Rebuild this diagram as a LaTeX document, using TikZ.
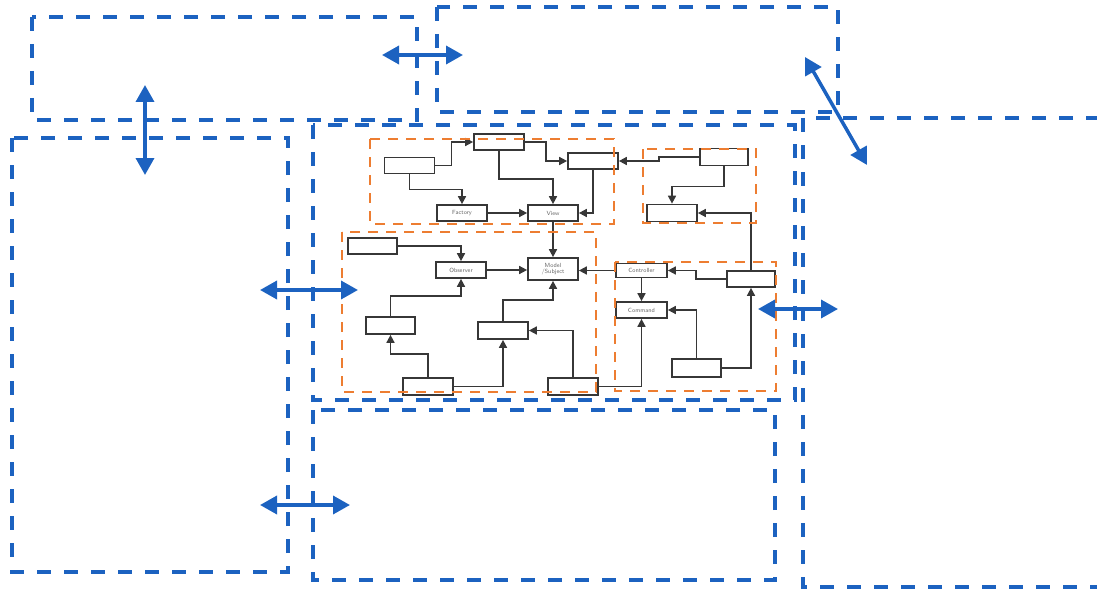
\documentclass[tikz,border=0pt]{standalone}
\usetikzlibrary{arrows.meta}
\definecolor{bblue}{RGB}{28,98,192}
\definecolor{oorange}{RGB}{237,125,49}
\definecolor{boxline}{RGB}{55,55,55}
\begin{document}
\begin{tikzpicture}[x=1pt,y=-1pt,
  bluebox/.style={draw=bblue,line width=3.5pt,dash pattern=on 14pt off 13pt},
  orangebox/.style={draw=oorange,line width=2.2pt,dash pattern=on 10pt off 8pt},
  bluearrow/.style={draw=bblue,line width=3.5pt,{Triangle[length=17pt,width=18pt]}-{Triangle[length=17pt,width=18pt]}},
  blk/.style={draw=boxline,line width=1.7pt,fill=white,rectangle,inner sep=0pt,
    minimum width=50pt,minimum height=16pt,font=\sffamily\fontsize{6}{6.5}\selectfont,text=black!60,align=center},
  conn/.style={draw=boxline,line width=1.6pt,-{Triangle[length=8pt,width=8pt]}}
]
\useasboundingbox (0,0) rectangle (1097,591);
% blue dashed regions
\draw[bluebox] (32,17) rectangle (417,120);
\draw[bluebox] (437,7) rectangle (838,112);
\draw[bluebox] (313,125) rectangle (795,400);
\draw[bluebox] (12,138) rectangle (288,572);
\draw[bluebox] (313,410) rectangle (775,580);
\draw[bluebox] (1100,118) -- (803,118) -- (803,587) -- (1100,587);
% black nodes
\node[blk] (b1) at (409.5,165.5) {};
\node[blk] (b2) at (499,142) {};
\node[blk] (b3) at (593,161) {};
\node[blk] (factory) at (462,213) {Factory};
\node[blk] (view) at (553,213) {View};
\node[blk,minimum width=48pt,minimum height=17pt] (b4) at (724,157) {};
\node[blk,minimum height=17pt] (b5) at (672,213) {};
\node[blk,minimum width=49pt] (b6) at (372.5,246) {};
\node[blk] (observer) at (461,270) {Observer};
\node[blk,minimum height=22pt] (model) at (553,269) {Model\\/Subject};
\node[blk,minimum width=49pt,minimum height=17pt] (b7) at (390.5,325.5) {};
\node[blk,minimum height=17pt] (b8) at (503,330.5) {};
\node[blk,minimum height=17pt] (b9) at (428,386.5) {};
\node[blk,minimum height=17pt] (b10) at (573,386.5) {};
\node[blk,minimum width=51pt,minimum height=14pt] (controller) at (641.5,270.5) {Controller};
\node[blk,minimum width=51pt] (command) at (641.5,310) {Command};
\node[blk,minimum width=48pt] (b11) at (751,279) {};
\node[blk,minimum width=49pt,minimum height=18pt] (b12) at (696.5,368) {};
% connectors
\draw[conn] (b1.east) -- ++(16,0) |- (b2.west);
\draw[conn] (b1.south) -- ++(0,15) -| (factory.north);
\draw[conn] (b2.south) -- ++(0,28) -| (view.north);
\draw[conn] (b2.east) -- ++(21,0) |- (b3.west);
\draw[conn] (b3.south) |- (view.east);
\draw[conn] (factory.east) -- (view.west);
\draw[conn] (b4.west) -- ++(-40,0) |- (b3.east);
\draw[conn] (b4.south) -- ++(0,20) -| (b5.north);
\draw[conn] (b11.north) |- (b5.east);
\draw[conn] (b6.east) -| (observer.north);
\draw[conn] (observer.east) -- (observer.east -| model.west);
\draw[conn] (view.south) -- (model.north);
\draw[conn] (controller.west) -- (controller.west -| model.east);
\draw[conn] (b7.north) -- ++(0,-20) -| (observer.south);
\draw[conn] (b9.north) -- ++(0,-23) -| (b7.south);
\draw[conn] (b9.east) -| (b8.south);
\draw[conn] (b8.north) -- ++(0,-21) -| (model.south);
\draw[conn] (b10.north) |- (b8.east);
\draw[conn] (b10.east) -| (command.south);
\draw[conn] (controller.south) -- (command.north);
\draw[conn] (b11.west) -- ++(-30,0) |- (controller.east);
\draw[conn] (b12.north) |- (command.east);
\draw[conn] (b12.east) -| (b11.south);
% orange dashed groups
\draw[orangebox] (370,139) rectangle (614,224);
\draw[orangebox] (643,149) rectangle (756,223);
\draw[orangebox] (342,232) rectangle (596,392);
\draw[orangebox] (615,262) rectangle (776,391);
% blue double arrows
\coordinate (a1s) at (145,85); \coordinate (a1e) at (145,175);
\coordinate (a2s) at (382,55); \coordinate (a2e) at (463,55);
\coordinate (a3s) at (805,57); \coordinate (a3e) at (867,165);
\coordinate (a4s) at (260,290); \coordinate (a4e) at (358,290);
\coordinate (a5s) at (758,309); \coordinate (a5e) at (838,309);
\coordinate (a6s) at (260,505); \coordinate (a6e) at (350,505);
\draw[bluearrow] (a1s) -- (a1e);
\draw[bluearrow] (a2s) -- (a2e);
\draw[bluearrow] (a3s) -- (a3e);
\draw[bluearrow] (a4s) -- (a4e);
\draw[bluearrow] (a5s) -- (a5e);
\draw[bluearrow] (a6s) -- (a6e);
\end{tikzpicture}
\end{document}
